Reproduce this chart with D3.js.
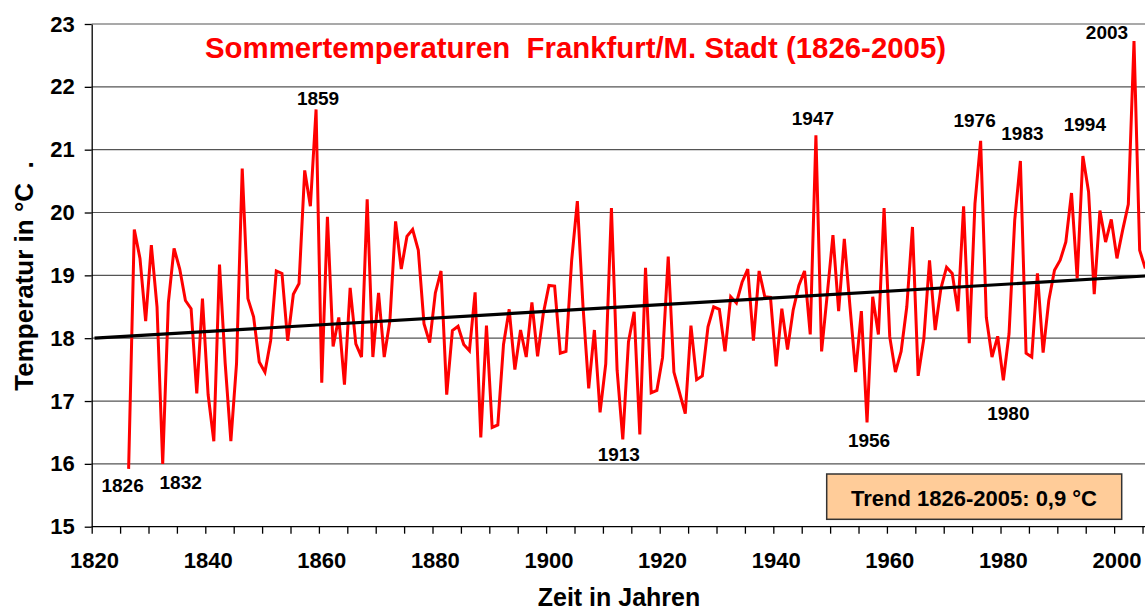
<!DOCTYPE html>
<meta charset="utf-8">
<style>
body { margin: 0; background: #fff; }
svg { display: block; font-family: "Liberation Sans", Arial, sans-serif; font-weight: bold; }
</style>
<body>
<div id="chart"></div>
<script src="https://cdn.jsdelivr.net/npm/d3@7/dist/d3.min.js"></script>
<script>

// summer mean temperature, 1826..2005
var firstYear = 1826;
var temps = [
  15.92, 19.73, 19.27, 18.27, 19.48, 18.50, 16.00, 18.57, 19.43, 19.10,
  18.60, 18.47, 17.12, 18.63, 17.10, 16.36, 19.17, 17.60, 16.36, 17.60,
  20.70, 18.63, 18.34, 17.62, 17.46, 17.96, 19.07, 19.03, 17.96, 18.70,
  18.87, 20.67, 20.10, 21.64, 17.29, 19.93, 17.87, 18.33, 17.26, 18.80,
  17.91, 17.70, 20.21, 17.70, 18.72, 17.70, 18.28, 19.86, 19.10, 19.62,
  19.73, 19.40, 18.23, 17.93, 18.72, 19.07, 17.10, 18.12, 18.19, 17.90,
  17.80, 18.73, 16.42, 18.20, 16.58, 16.62, 17.90, 18.46, 17.50, 18.13,
  17.70, 18.57, 17.71, 18.39, 18.84, 18.83, 17.76, 17.79, 19.24, 20.18,
  18.50, 17.20, 18.13, 16.82, 17.59, 20.07, 17.49, 16.39, 17.94, 18.42,
  16.47, 19.12, 17.13, 17.17, 17.69, 19.30, 17.46, 17.13, 16.80, 18.20,
  17.34, 17.40, 18.18, 18.50, 18.46, 17.79, 18.66, 18.56, 18.89, 19.10,
  17.96, 19.07, 18.66, 18.65, 17.55, 18.47, 17.82, 18.45, 18.84, 19.07,
  18.06, 21.23, 17.79, 18.70, 19.64, 18.43, 19.58, 18.50, 17.46, 18.43,
  16.66, 18.66, 18.06, 20.07, 18.02, 17.46, 17.79, 18.50, 19.77, 17.40,
  17.99, 19.24, 18.13, 18.79, 19.13, 19.03, 18.43, 20.10, 17.92, 20.14,
  21.14, 18.33, 17.70, 18.03, 17.33, 18.07, 19.88, 20.82, 17.76, 17.70,
  19.03, 17.77, 18.60, 19.08, 19.24, 19.53, 20.31, 18.95, 20.90, 20.33,
  18.70, 20.03, 19.53, 19.89, 19.27, 19.72, 20.13, 22.73, 19.40, 19.11
];

var trendYears = [1820, 2005];
var trendValues = [18.0, 18.99];

var markedYears = [1826, 1832, 1859, 1913, 1947, 1956, 1976, 1980, 1983, 1994, 2003];

var yTicks = [15, 16, 17, 18, 19, 20, 21, 22, 23];
var xLabelYears = [1820, 1840, 1860, 1880, 1900, 1920, 1940, 1960, 1980, 2000];

var titleText = "Sommertemperaturen  Frankfurt/M. Stadt (1826-2005)";
var trendText = "Trend 1826-2005: 0,9 °C";
var yTitle = "Temperatur in °C  .";
var xTitle = "Zeit in Jahren";

var width = 1145,
    height = 613;

var plotLeft = 91.7, plotRight = 1148.2, plotTop = 24, plotBottom = 526.7;

var data = temps.map(function(v, i) { return {year: firstYear + i, value: v}; });

var axisYears = d3.range(1820, 2006);
var x = d3.scaleBand().domain(axisYears).range([plotLeft, plotRight]);
var xTick = d3.scaleLinear().domain([1820, 2006]).range([plotLeft, plotRight]);
var y = d3.scaleLinear().domain([15, 23]).range([plotBottom, plotTop]);
var cx = function(yr) { return x(yr) + x.bandwidth() / 2; };

var svg = d3.select("#chart").append("svg")
    .attr("width", width)
    .attr("height", height);

// grid
svg.append("g")
  .selectAll("line")
  .data(yTicks.slice(1))
  .enter().append("line")
    .attr("x1", plotLeft).attr("x2", width)
    .attr("y1", function(d) { return y(d); })
    .attr("y2", function(d) { return y(d); })
    .attr("stroke", "#555")
    .attr("stroke-width", 1.2);

// axes
var yAxis = svg.append("g")
    .attr("transform", "translate(" + plotLeft + ",0)")
    .call(d3.axisLeft(y).tickValues(yTicks).tickSize(7).tickSizeOuter(0).tickPadding(10));
yAxis.selectAll("text").style("font-size", "22px").attr("fill", "#000");

var xAxisTicks = svg.append("g")
    .attr("transform", "translate(0," + plotBottom + ")")
    .call(d3.axisBottom(xTick).tickValues(d3.range(1820, 2006, 5)).tickFormat("").tickSize(7).tickSizeOuter(0));
xAxisTicks.select(".domain").attr("d", "M" + plotLeft + ",0H" + width);

var xAxisLabels = svg.append("g")
    .attr("transform", "translate(0," + plotBottom + ")")
    .call(d3.axisBottom(x).tickValues(xLabelYears).tickSize(0).tickPadding(26));
xAxisLabels.select(".domain").remove();
xAxisLabels.selectAll("text").style("font-size", "22px").attr("fill", "#000");

svg.selectAll(".domain, .tick line").attr("stroke", "#000").attr("stroke-width", 1.3);

// series
var line = d3.line()
    .x(function(d) { return cx(d.year); })
    .y(function(d) { return y(d.value); });

svg.append("path")
    .datum(data)
    .attr("d", line)
    .attr("fill", "none")
    .attr("stroke", "#ff0000")
    .attr("stroke-width", 3);

// trend
svg.append("path")
    .datum(trendYears.map(function(yr, i) { return {year: yr, value: trendValues[i]}; }))
    .attr("d", line)
    .attr("fill", "none")
    .attr("stroke", "#000")
    .attr("stroke-width", 3.2);

// year labels next to the extremes
var shift = {
  1826: [-6, 23], 1832: [18, 25], 1859: [2, -4], 1913: [-4, 22],
  1947: [-3, -10], 1956: [2, 25], 1976: [-6, -14], 1980: [5, 40],
  1983: [2, -21], 1994: [2, -25], 2003: [-27, -2]
};
svg.append("g")
  .selectAll("text")
  .data(markedYears)
  .enter().append("text")
    .attr("x", function(d) { return cx(d) + shift[d][0]; })
    .attr("y", function(d) { return y(temps[d - firstYear]) + shift[d][1]; })
    .attr("text-anchor", "middle")
    .style("font-size", "19px")
    .text(function(d) { return d; });

// title
svg.append("text")
    .attr("x", 575.5)
    .attr("y", 58)
    .attr("text-anchor", "middle")
    .attr("fill", "#ff0000")
    .attr("textLength", 741)
    .attr("lengthAdjust", "spacingAndGlyphs")
    .style("font-size", "29px")
    .style("white-space", "pre")
    .text(titleText);

// trend box
svg.append("rect")
    .attr("x", 826.7).attr("y", 474)
    .attr("width", 295).attr("height", 45.3)
    .attr("fill", "#ffcc99")
    .attr("stroke", "#333")
    .attr("stroke-width", 1.5);
svg.append("text")
    .attr("x", 974)
    .attr("y", 505.7)
    .attr("text-anchor", "middle")
    .style("font-size", "22px")
    .text(trendText);

// axis titles
svg.append("text")
    .attr("transform", "translate(33,276) rotate(-90)")
    .attr("text-anchor", "middle")
    .style("font-size", "26px")
    .style("white-space", "pre")
    .text(yTitle);

svg.append("text")
    .attr("x", 619)
    .attr("y", 606)
    .attr("text-anchor", "middle")
    .style("font-size", "25px")
    .text(xTitle);

</script>
